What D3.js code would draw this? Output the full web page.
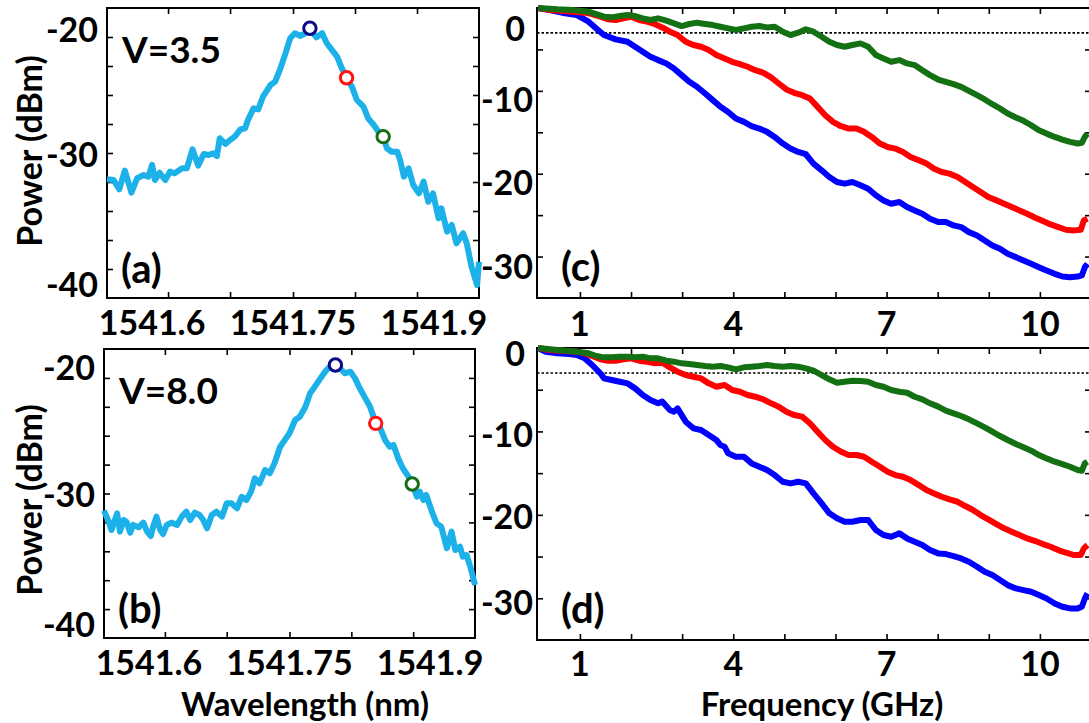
<!DOCTYPE html>
<html>
<head>
<meta charset="utf-8">
<script src="https://cdn.jsdelivr.net/npm/d3@7"></script>
<style>
  body { margin: 0; background: #fff; }
  text { font-family: Lato, "Open Sans", sans-serif; font-weight: 700; fill: #000; }
</style>
</head>
<body>
<svg id="chart" width="1089" height="723"></svg>
<script>
// ---------- values ----------
const wavelengthTicks = [1541.617, 1541.683, 1541.75, 1541.816, 1541.882];
const wavelengthLabels = [1541.6, 1541.75, 1541.9];
const powerTicks = [-40, -37.5, -35, -32.5, -30, -27.5, -25, -22.5, -20];
const powerLabels = [-20, -30, -40];
const freqTicks = [1, 2, 3, 4, 5, 6, 7, 8, 9, 10];
const freqLabels = [1, 4, 7, 10];
const responseTicks = [-30, -25, -20, -15, -10, -5];
const responseLabels = [0, -10, -20, -30];

// (a) V=3.5 spectrum
const wlA = [1541.552, 1541.559, 1541.565, 1541.571, 1541.578, 1541.584, 1541.591, 1541.596, 1541.600, 1541.603,
  1541.608, 1541.614, 1541.619, 1541.624, 1541.632, 1541.637, 1541.643, 1541.649, 1541.655, 1541.660,
  1541.665, 1541.669, 1541.672, 1541.678, 1541.683, 1541.688, 1541.694, 1541.699, 1541.702, 1541.708,
  1541.713, 1541.718, 1541.726, 1541.731, 1541.736, 1541.742, 1541.747, 1541.752, 1541.758, 1541.763,
  1541.768, 1541.775, 1541.781, 1541.786, 1541.791, 1541.797, 1541.802, 1541.807, 1541.813, 1541.818,
  1541.825, 1541.830, 1541.836, 1541.841, 1541.846, 1541.850, 1541.855, 1541.861, 1541.864, 1541.868,
  1541.873, 1541.878, 1541.884, 1541.889, 1541.894, 1541.899, 1541.905, 1541.908, 1541.914, 1541.919,
  1541.924, 1541.931, 1541.935, 1541.940, 1541.946, 1541.948];
const pwrA = [-32.27, -32.33, -33.13, -31.52, -33.42, -32.18, -31.90, -32.04, -31.03, -32.33,
  -31.70, -32.33, -31.61, -31.75, -31.32, -31.32, -29.68, -31.09, -30.09, -30.17,
  -30.03, -30.26, -28.73, -29.22, -28.88, -28.59, -27.96, -27.87, -27.16, -26.15,
  -26.24, -25.15, -24.14, -23.85, -22.84, -21.41, -20.11, -19.68, -19.91, -19.68,
  -19.34, -20.03, -19.68, -20.54, -21.06, -21.70, -22.70, -23.51, -24.34, -25.43,
  -26.01, -27.01, -27.59, -28.16, -28.59, -29.59, -29.89, -29.89, -30.60, -32.04,
  -31.32, -32.76, -33.48, -32.47, -34.20, -33.48, -35.63, -34.77, -36.78, -36.21,
  -37.79, -36.92, -37.79, -39.80, -41.38, -39.37];
const markWlA = [1541.768, 1541.807, 1541.846];
const markPwrA = [-19.25, -23.51, -28.59];

// (b) V=8.0 spectrum
const wlB = [1541.552, 1541.557, 1541.560, 1541.566, 1541.569, 1541.573, 1541.576, 1541.580, 1541.583, 1541.589,
  1541.594, 1541.598, 1541.602, 1541.605, 1541.608, 1541.612, 1541.615, 1541.619, 1541.624, 1541.630,
  1541.635, 1541.640, 1541.644, 1541.649, 1541.654, 1541.658, 1541.662, 1541.667, 1541.672, 1541.678,
  1541.683, 1541.688, 1541.694, 1541.699, 1541.704, 1541.709, 1541.713, 1541.718, 1541.724, 1541.729,
  1541.734, 1541.740, 1541.745, 1541.750, 1541.756, 1541.761, 1541.767, 1541.772, 1541.777, 1541.783,
  1541.788, 1541.793, 1541.799, 1541.804, 1541.809, 1541.815, 1541.820, 1541.825, 1541.831, 1541.836,
  1541.842, 1541.847, 1541.852, 1541.857, 1541.861, 1541.866, 1541.871, 1541.877, 1541.881, 1541.886,
  1541.889, 1541.893, 1541.896, 1541.902, 1541.907, 1541.912, 1541.918, 1541.923, 1541.927, 1541.932,
  1541.935, 1541.939, 1541.943, 1541.948];
const pwrB = [-31.48, -32.44, -33.16, -31.72, -33.30, -32.29, -32.44, -33.39, -32.72, -32.92,
  -32.52, -33.30, -33.68, -32.72, -32.00, -33.16, -33.50, -32.72, -32.52, -32.72,
  -32.00, -31.57, -32.29, -31.66, -31.86, -32.29, -33.01, -31.86, -31.57, -32.00,
  -30.85, -30.85, -31.28, -30.28, -30.56, -29.84, -28.69, -29.12, -27.97, -28.25,
  -27.39, -25.95, -25.37, -24.79, -23.64, -23.36, -22.49, -21.33, -20.76, -20.04,
  -19.46, -19.03, -18.88, -19.17, -19.60, -19.46, -20.04, -20.90, -21.77, -22.49,
  -23.93, -24.36, -25.37, -25.95, -25.80, -26.96, -27.82, -28.54, -29.18, -30.28,
  -29.84, -30.56, -30.13, -31.57, -32.58, -32.87, -34.74, -33.30, -34.89, -34.60,
  -35.47, -35.32, -36.33, -37.92];
const markWlB = [1541.799, 1541.842, 1541.881];
const markPwrB = [-18.88, -23.93, -29.18];

// (c) frequency response, V=3.5  [GHz, dB]
const blueC = [[0.18,0],[0.41,-0.24],[0.71,-0.64],[0.94,-0.85],[1.17,-1.65],[1.32,-2.46],[1.47,-3.26],[1.70,-3.79],
  [1.93,-4.07],[2.08,-4.68],[2.23,-5.28],[2.38,-5.88],[2.53,-6.29],[2.69,-6.69],[2.84,-7.30],[2.99,-8.10],[3.14,-8.91],
  [3.29,-9.51],[3.45,-10.32],[3.60,-11.12],[3.75,-11.93],[3.90,-12.54],[4.05,-13.34],[4.21,-13.74],[4.36,-14.27],
  [4.51,-14.55],[4.66,-14.95],[4.81,-15.56],[4.97,-16.36],[5.12,-16.97],[5.27,-17.37],[5.42,-17.65],[5.57,-18.78],
  [5.73,-19.59],[5.88,-20.39],[6.03,-21.00],[6.18,-21.20],[6.33,-21.00],[6.49,-21.40],[6.64,-21.81],[6.79,-22.61],
  [6.94,-23.22],[7.09,-23.62],[7.25,-23.42],[7.40,-24.02],[7.55,-24.43],[7.70,-24.83],[7.85,-25.43],[8.01,-25.84],
  [8.16,-25.84],[8.31,-26.24],[8.46,-26.44],[8.61,-27.05],[8.77,-27.45],[8.92,-28.05],[9.07,-28.66],[9.22,-29.06],
  [9.37,-29.67],[9.53,-30.07],[9.68,-30.47],[9.83,-30.87],[9.98,-31.28],[10.13,-31.68],[10.29,-32.08],[10.44,-32.41],
  [10.59,-32.49],[10.74,-32.41],[10.82,-32.28],[10.88,-31.28],[10.93,-30.87]];
const redC = [[0.18,0],[0.41,-0.24],[0.64,-0.32],[0.86,-0.44],[1.09,-0.56],[1.24,-0.73],[1.40,-1.05],[1.55,-1.37],
  [1.70,-1.45],[1.85,-1.25],[2.00,-1.05],[2.16,-1.45],[2.31,-1.65],[2.46,-1.93],[2.61,-2.34],[2.76,-2.86],[2.91,-3.26],
  [3.07,-4.07],[3.22,-4.47],[3.37,-4.68],[3.52,-5.08],[3.67,-5.68],[3.83,-6.09],[3.98,-6.49],[4.13,-6.77],[4.28,-7.09],
  [4.43,-7.50],[4.59,-7.82],[4.74,-8.38],[4.89,-9.11],[5.04,-9.83],[5.19,-10.24],[5.35,-10.52],[5.50,-10.92],
  [5.65,-11.93],[5.80,-12.94],[5.95,-13.74],[6.11,-14.27],[6.26,-14.55],[6.41,-14.55],[6.56,-14.95],[6.71,-15.56],
  [6.87,-16.36],[7.02,-16.77],[7.17,-16.97],[7.32,-17.37],[7.47,-17.98],[7.63,-18.38],[7.78,-18.78],[7.93,-19.39],
  [8.08,-19.79],[8.23,-19.99],[8.39,-20.39],[8.54,-21.00],[8.69,-21.60],[8.84,-22.21],[8.99,-22.81],[9.15,-23.22],
  [9.30,-23.62],[9.45,-24.02],[9.60,-24.43],[9.75,-24.83],[9.91,-25.31],[10.06,-25.72],[10.21,-26.12],[10.36,-26.44],
  [10.51,-26.76],[10.67,-26.84],[10.80,-26.76],[10.86,-25.63],[10.93,-25.43]];
const greenC = [[0.18,0],[0.56,-0.16],[0.86,-0.24],[1.17,-0.44],[1.32,-0.73],[1.47,-1.05],[1.62,-1.13],[1.78,-0.97],
  [1.93,-0.85],[2.08,-0.97],[2.23,-1.25],[2.38,-1.45],[2.53,-1.25],[2.69,-1.53],[2.84,-1.85],[2.99,-2.18],[3.14,-1.93],
  [3.29,-1.77],[3.45,-1.93],[3.60,-2.06],[3.75,-2.26],[3.90,-2.46],[4.05,-2.66],[4.21,-2.46],[4.36,-2.26],[4.51,-2.18],
  [4.66,-2.34],[4.81,-2.26],[4.97,-2.86],[5.12,-3.26],[5.27,-2.98],[5.42,-2.58],[5.57,-2.86],[5.73,-3.47],[5.88,-4.07],
  [6.03,-4.47],[6.18,-4.68],[6.33,-4.47],[6.49,-4.27],[6.64,-4.68],[6.79,-5.68],[6.94,-6.09],[7.09,-6.49],[7.25,-6.29],
  [7.40,-6.69],[7.55,-6.89],[7.70,-7.50],[7.85,-8.10],[8.01,-8.63],[8.16,-8.91],[8.31,-9.19],[8.46,-9.51],[8.61,-10.00],
  [8.77,-10.52],[8.92,-11.04],[9.07,-11.61],[9.22,-12.13],[9.37,-12.74],[9.53,-13.22],[9.68,-13.62],[9.83,-14.15],
  [9.98,-14.75],[10.13,-15.16],[10.29,-15.56],[10.44,-15.88],[10.59,-16.16],[10.74,-16.36],[10.82,-16.28],
  [10.88,-15.56],[10.93,-15.16]];

// (d) frequency response, V=8.0  [GHz, dB]
const blueD = [[0.18,0],[0.33,-0.44],[0.56,-0.64],[0.79,-0.72],[0.94,-0.84],[1.09,-1.24],[1.24,-2.04],[1.40,-3.04],
  [1.47,-3.64],[1.62,-3.84],[1.78,-4.04],[1.93,-4.24],[2.08,-4.84],[2.23,-5.64],[2.38,-6.24],[2.53,-6.63],[2.61,-6.43],
  [2.76,-7.43],[2.84,-7.63],[2.91,-7.23],[3.07,-8.83],[3.22,-9.63],[3.37,-9.83],[3.52,-10.43],[3.67,-11.03],
  [3.75,-11.63],[3.83,-11.83],[3.90,-12.63],[4.05,-13.03],[4.21,-13.03],[4.36,-13.83],[4.51,-14.23],[4.66,-14.63],
  [4.81,-15.23],[4.97,-16.03],[5.12,-16.23],[5.27,-16.03],[5.42,-16.23],[5.57,-17.43],[5.73,-18.63],[5.88,-19.82],
  [6.03,-20.42],[6.18,-20.82],[6.33,-20.82],[6.49,-20.62],[6.64,-20.62],[6.79,-21.82],[6.94,-22.42],[7.09,-22.62],
  [7.25,-22.22],[7.40,-22.82],[7.55,-23.22],[7.70,-23.62],[7.85,-24.22],[8.01,-24.62],[8.16,-24.70],[8.31,-24.94],
  [8.46,-25.22],[8.61,-25.62],[8.77,-26.22],[8.92,-26.82],[9.07,-27.22],[9.22,-27.82],[9.37,-28.42],[9.53,-28.82],
  [9.68,-29.02],[9.83,-29.22],[9.98,-29.62],[10.13,-30.02],[10.29,-30.62],[10.44,-31.01],[10.59,-31.21],
  [10.74,-31.21],[10.82,-31.01],[10.88,-30.02],[10.93,-29.42]];
const redD = [[0.18,0],[0.41,-0.24],[0.64,-0.32],[0.94,-0.44],[1.09,-0.64],[1.24,-0.96],[1.40,-1.36],[1.55,-1.52],
  [1.70,-1.52],[1.85,-1.36],[2.00,-1.24],[2.16,-1.52],[2.31,-1.64],[2.46,-1.84],[2.61,-1.76],[2.76,-2.32],[2.91,-2.84],
  [3.07,-3.24],[3.22,-3.44],[3.37,-3.64],[3.52,-4.24],[3.67,-4.64],[3.83,-4.44],[3.98,-5.04],[4.13,-5.24],[4.28,-5.64],
  [4.43,-5.84],[4.59,-6.16],[4.74,-6.63],[4.89,-7.03],[5.04,-7.63],[5.19,-8.03],[5.35,-8.23],[5.50,-9.03],[5.65,-10.03],
  [5.80,-11.03],[5.95,-11.83],[6.11,-12.43],[6.26,-12.83],[6.41,-12.83],[6.56,-13.03],[6.71,-13.63],[6.87,-14.23],
  [7.02,-14.83],[7.17,-15.23],[7.32,-15.43],[7.47,-15.83],[7.63,-16.43],[7.78,-17.03],[7.93,-17.43],[8.08,-17.83],
  [8.23,-18.15],[8.39,-18.43],[8.54,-18.94],[8.69,-19.42],[8.84,-20.02],[8.99,-20.54],[9.15,-21.10],[9.30,-21.62],
  [9.45,-22.02],[9.60,-22.42],[9.75,-22.82],[9.91,-23.14],[10.06,-23.50],[10.21,-23.82],[10.36,-24.22],[10.51,-24.54],
  [10.67,-24.82],[10.80,-24.82],[10.86,-24.02],[10.93,-23.62]];
const greenD = [[0.18,0],[0.56,-0.24],[0.94,-0.44],[1.17,-0.64],[1.32,-0.96],[1.47,-1.12],[1.62,-1.12],[1.78,-1.04],
  [1.93,-1.04],[2.08,-1.12],[2.23,-1.04],[2.38,-1.24],[2.53,-1.24],[2.69,-1.52],[2.84,-1.64],[2.99,-1.84],[3.14,-1.92],
  [3.29,-2.04],[3.45,-2.16],[3.60,-2.24],[3.75,-2.16],[3.90,-2.32],[4.05,-2.56],[4.21,-2.32],[4.36,-2.24],[4.51,-2.16],
  [4.66,-2.04],[4.81,-2.16],[4.97,-2.24],[5.12,-2.16],[5.27,-2.24],[5.42,-2.44],[5.57,-2.72],[5.73,-3.24],[5.88,-3.76],
  [6.03,-4.16],[6.18,-4.04],[6.33,-3.92],[6.49,-3.96],[6.64,-4.04],[6.79,-4.44],[6.94,-4.64],[7.09,-5.04],[7.25,-5.24],
  [7.40,-5.36],[7.55,-5.84],[7.70,-6.16],[7.85,-6.63],[8.01,-7.03],[8.16,-7.51],[8.31,-7.83],[8.46,-8.15],[8.61,-8.55],
  [8.77,-9.03],[8.92,-9.51],[9.07,-10.03],[9.22,-10.55],[9.37,-11.03],[9.53,-11.51],[9.68,-11.91],[9.83,-12.31],
  [9.98,-12.83],[10.13,-13.23],[10.29,-13.63],[10.44,-13.91],[10.59,-14.23],[10.74,-14.63],[10.82,-14.71],
  [10.88,-13.83],[10.93,-13.63]];

const bandwidthLevel = -3;   // dotted 3 dB line
const markerColors = ['#0a0a8a', '#ff1414', '#176e17'];
const responseColors = ['#0000ff', '#ff0000', '#137013'];

// ---------- drawing ----------
const svg = d3.select('#chart');
const tickFont = '34px';

function drawPanel(cfg) {
  const { left, right, top, bottom } = cfg.box;
  const x = d3.scaleLinear().domain(cfg.xDomain).range([left, right]);
  const y = d3.scaleLinear().domain(cfg.yDomain).range([bottom, top]);
  const g = svg.append('g');

  // inward tick marks on all four sides
  const ticks = g.append('g');
  ticks.append('g').attr('transform', `translate(0,${bottom})`)
    .call(d3.axisBottom(x).tickValues(cfg.xTicks).tickSize(-6).tickFormat(''));
  ticks.append('g').attr('transform', `translate(0,${top})`)
    .call(d3.axisTop(x).tickValues(cfg.xTicks).tickSize(-6).tickFormat(''));
  ticks.append('g').attr('transform', `translate(${left},0)`)
    .call(d3.axisLeft(y).tickValues(cfg.yTicks).tickSize(-6).tickFormat(''));
  ticks.append('g').attr('transform', `translate(${right},0)`)
    .call(d3.axisRight(y).tickValues(cfg.yTicks).tickSize(-6).tickFormat(''));
  ticks.selectAll('.domain').remove();
  ticks.selectAll('.tick line').attr('stroke', '#000').attr('stroke-width', 1.6);

  g.append('rect')
    .attr('x', left).attr('y', top)
    .attr('width', right - left).attr('height', bottom - top)
    .attr('fill', 'none').attr('stroke', '#000').attr('stroke-width', 2);

  // tick labels
  g.selectAll('.xlab').data(cfg.xLabels).join('text')
    .attr('x', d => x(d))
    .attr('y', bottom + cfg.xLabelGap)
    .attr('text-anchor', 'middle')
    .attr('dominant-baseline', 'central')
    .style('font-size', tickFont)
    .text(d => d);

  g.selectAll('.ylab').data(cfg.yLabels).join('text')
    .attr('x', d => left - cfg.yLabelGap + ((cfg.yNudgeX || {})[d] || 0))
    .attr('y', d => y(d) + (cfg.yNudge[d] || 0))
    .attr('text-anchor', 'end')
    .attr('dominant-baseline', 'central')
    .style('font-size', tickFont)
    .text(d => d);

  return { g, x, y };
}

const lineOf = (x, y) => d3.line().x(d => x(d[0])).y(d => y(d[1]));

// spectra (a) and (b)
function spectrumPanel(box, wl, pwr, markWl, markPwr, volt, tag, nudge, titleY) {
  const { g, x, y } = drawPanel({
    box, xDomain: [1541.552, 1541.948], yDomain: [-42.5, -17.5],
    xTicks: wavelengthTicks, yTicks: powerTicks,
    xLabels: wavelengthLabels, yLabels: powerLabels,
    xLabelGap: 23, yLabelGap: 9, yNudge: nudge
  });
  g.append('path')
    .datum(d3.zip(wl, pwr))
    .attr('d', lineOf(x, y))
    .attr('fill', 'none').attr('stroke', '#1cb1e8')
    .attr('stroke-width', 6).attr('stroke-linejoin', 'round');
  g.selectAll('circle').data(d3.zip(markWl, markPwr)).join('circle')
    .attr('cx', d => x(d[0])).attr('cy', d => y(d[1])).attr('r', 6.2)
    .attr('fill', '#fff').attr('stroke-width', 3)
    .attr('stroke', (d, i) => markerColors[i]);
  g.append('text').attr('x', box.left + 15).attr('y', box.top + 55)
    .style('font-size', '37px').text(volt);
  g.append('text').attr('x', box.left + 14).attr('y', box.bottom - 15)
    .style('font-size', '40px').text(tag);
  g.append('text')
    .attr('transform', `translate(28,${titleY}) rotate(-90)`)
    .attr('text-anchor', 'middle').attr('dominant-baseline', 'central')
    .style('font-size', '34px').text('Power (dBm)');
}

spectrumPanel({ left: 107, right: 479, top: 8, bottom: 298 }, wlA, pwrA, markWlA, markPwrA,
  'V=3.5', '(a)', { '-20': -9, '-40': 14 }, 151);
spectrumPanel({ left: 104, right: 475, top: 349, bottom: 638 }, wlB, pwrB, markWlB, markPwrB,
  'V=8.0', '(b)', { '-20': -11, '-40': 14 }, 500);

// frequency responses (c) and (d)
function responsePanel(box, series, tag, nudge, gap) {
  const { g, x, y } = drawPanel({
    box, xDomain: [0.16, 11], yDomain: [-35, 0],
    xTicks: freqTicks, yTicks: responseTicks,
    xLabels: freqLabels, yLabels: responseLabels,
    xLabelGap: gap, yLabelGap: 4, yNudge: nudge, yNudgeX: { '0': -8 }
  });
  g.append('line')
    .attr('x1', box.left).attr('x2', box.right)
    .attr('y1', y(bandwidthLevel)).attr('y2', y(bandwidthLevel))
    .attr('stroke', '#000').attr('stroke-width', 1.6).attr('stroke-dasharray', '2.5,2');
  series.forEach((s, i) => {
    g.append('path').datum(s)
      .attr('d', lineOf(x, y))
      .attr('fill', 'none').attr('stroke', responseColors[i])
      .attr('stroke-width', 6).attr('stroke-linejoin', 'round');
  });
  g.append('text').attr('x', box.left + 24).attr('y', box.bottom - 17)
    .style('font-size', '40px').text(tag);
}

responsePanel({ left: 537, right: 1091, top: 8, bottom: 298 }, [blueC, redC, greenC], '(c)',
  { '0': 19, '-10': 8, '-20': 8, '-30': 9 }, 24);
responsePanel({ left: 537, right: 1091, top: 348, bottom: 640 }, [blueD, redD, greenD], '(d)',
  { '0': 4, '-10': 2, '-20': 1, '-30': 3 }, 22);

// axis titles
svg.append('text').attr('x', 305).attr('y', 715.5)
  .attr('text-anchor', 'middle').style('font-size', '33px').text('Wavelength (nm)');
svg.append('text').attr('x', 822).attr('y', 715.5)
  .attr('text-anchor', 'middle').style('font-size', '33px').text('Frequency (GHz)');
</script>
</body>
</html>
